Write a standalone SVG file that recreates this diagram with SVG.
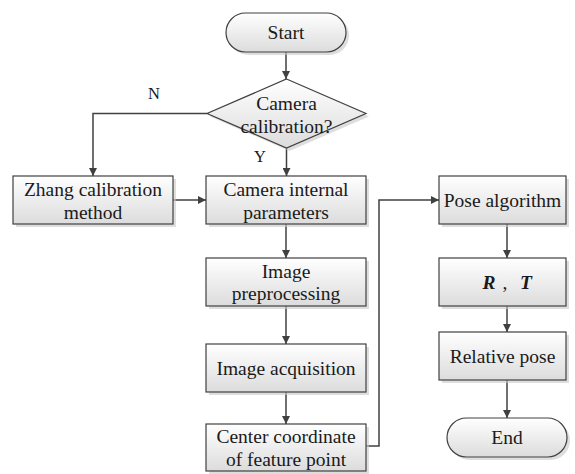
<svg xmlns="http://www.w3.org/2000/svg" width="575" height="474" viewBox="0 0 575 474">
<style>
.box{fill:url(#g);stroke:#404040;stroke-width:1.2}
.sh{fill:#c8c8c8;opacity:0.6}
text{font-family:'Liberation Serif','Times New Roman','DejaVu Serif',serif;fill:#1a1a1a;text-anchor:middle;dominant-baseline:central}
.t{font-size:19.5px}
.lbl{font-size:16.5px}
.c{fill:none;stroke:#404040;stroke-width:1.5;marker-end:url(#a)}
.bi{font-weight:bold;font-style:italic}
</style>
<defs>
<linearGradient id="g" x1="0" y1="0" x2="0" y2="1">
<stop offset="0" stop-color="#ffffff"/>
<stop offset="1" stop-color="#dcdcdc"/>
</linearGradient>
<marker id="a" viewBox="0 0 10 10" refX="10" refY="5" markerWidth="8" markerHeight="8" markerUnits="userSpaceOnUse" orient="auto">
<path d="M0,0 L10,5 L0,10 z" fill="#404040"/>
</marker>
</defs>
<rect width="575" height="474" fill="#fff"/>
<g id="connectors">
<path class="c" d="M286,52 V79"/>
<path class="c" d="M286.5,148 V176"/>
<path class="c" d="M207,113.5 H93 V176"/>
<path class="c" d="M173,200 H206"/>
<path class="c" d="M286,224 V258"/>
<path class="c" d="M286,306 V344"/>
<path class="c" d="M286,392 V424"/>
<path class="c" d="M366,446 H379 V200 H439"/>
<path class="c" d="M507,224 V258"/>
<path class="c" d="M507,306 V332"/>
<path class="c" d="M507,380 V418"/>
<text class="lbl" x="154" y="93">N</text>
<text class="lbl" x="260" y="156">Y</text>
</g>
<g id="start">
<rect class="sh" x="229" y="16" width="120" height="39" rx="19.5"/>
<rect class="box" x="226" y="13" width="120" height="39" rx="19.5"/>
<text class="t" x="286" y="32.5">Start</text>
</g>
<g id="decision">
<polygon class="sh" points="289.5,82 369,116.5 289.5,151 210,116.5"/>
<polygon class="box" points="286.5,79 366,113.5 286.5,148 207,113.5"/>
<text class="t" x="286.5" y="103">Camera</text>
<text class="t" x="286.5" y="126">calibration?</text>
</g>
<g id="zhang">
<rect class="sh" x="16" y="179" width="160" height="48"/>
<rect class="box" x="13" y="176" width="160" height="48"/>
<text class="t" x="93" y="189">Zhang calibration</text>
<text class="t" x="93" y="212">method</text>
</g>
<g id="internal">
<rect class="sh" x="209" y="179" width="160" height="48"/>
<rect class="box" x="206" y="176" width="160" height="48"/>
<text class="t" x="286" y="189">Camera internal</text>
<text class="t" x="286" y="212">parameters</text>
</g>
<g id="preprocessing">
<rect class="sh" x="209" y="261" width="160" height="48"/>
<rect class="box" x="206" y="258" width="160" height="48"/>
<text class="t" x="286" y="271">Image</text>
<text class="t" x="286" y="293">preprocessing</text>
</g>
<g id="acquisition">
<rect class="sh" x="209" y="347" width="160" height="48"/>
<rect class="box" x="206" y="344" width="160" height="48"/>
<text class="t" x="286" y="368">Image acquisition</text>
</g>
<g id="center">
<rect class="sh" x="209" y="427" width="160" height="48"/>
<rect class="box" x="206" y="424" width="160" height="47"/>
<text class="t" x="286" y="436">Center coordinate</text>
<text class="t" x="286" y="459">of feature point</text>
</g>
<g id="pose">
<rect class="sh" x="442" y="179" width="127" height="48"/>
<rect class="box" x="439" y="176" width="127" height="48"/>
<text class="t" x="502.5" y="200">Pose algorithm</text>
</g>
<g id="rt">
<rect class="sh" x="442" y="261" width="127" height="48"/>
<rect class="box" x="439" y="258" width="127" height="48"/>
<text class="t bi" x="489" y="282">R</text>
<text class="t" x="505" y="282">,</text>
<text class="t bi" x="526" y="282">T</text>
</g>
<g id="relative">
<rect class="sh" x="442" y="335" width="127" height="48"/>
<rect class="box" x="439" y="332" width="127" height="48"/>
<text class="t" x="502.5" y="356">Relative pose</text>
</g>
<g id="end">
<rect class="sh" x="450" y="421" width="120" height="39" rx="19.5"/>
<rect class="box" x="447" y="418" width="120" height="39" rx="19.5"/>
<text class="t" x="507" y="437.5">End</text>
</g>
</svg>
